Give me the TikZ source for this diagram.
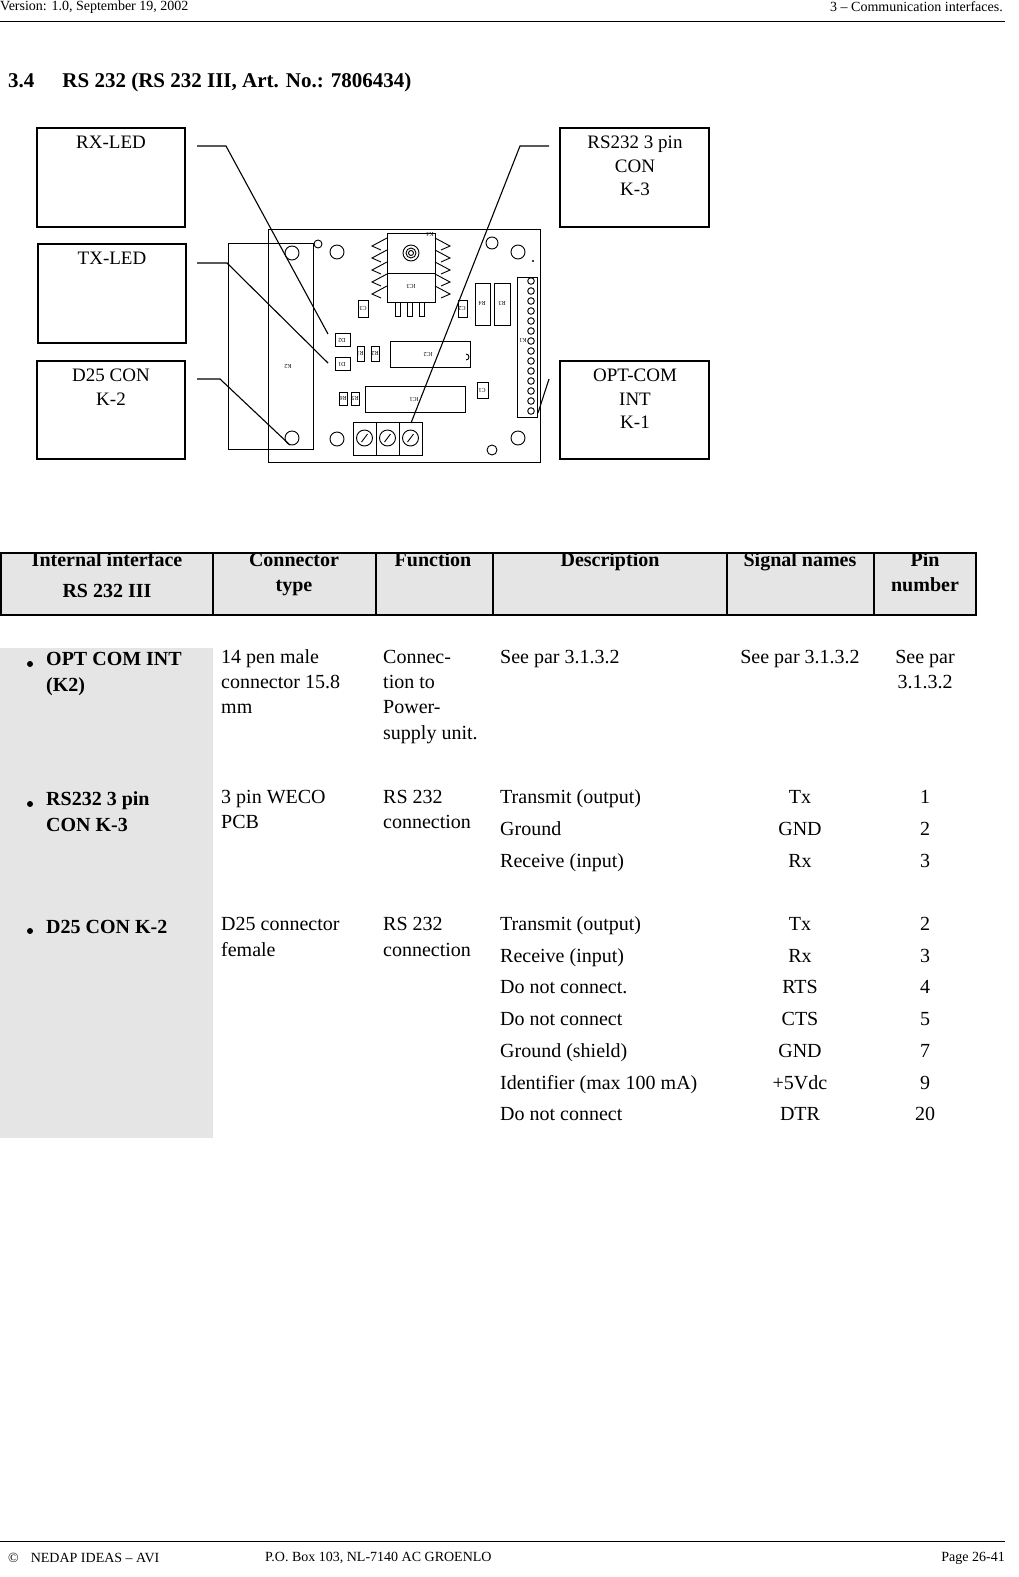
\documentclass[tikz,border=0pt]{standalone}
\usepackage{fontspec}
\setmainfont{Liberation Serif}
\begin{document}
\begin{tikzpicture}[x=1pt,y=-1pt,
  txt/.style={inner sep=0pt,anchor=mid west,font=\fontsize{20}{25}\selectfont},
  ctr/.style={inner sep=0pt,anchor=mid,font=\fontsize{20}{25}\selectfont},
  hd/.style={inner sep=0pt,anchor=mid,font=\fontsize{20}{25}\selectfont\bfseries},
  small/.style={inner sep=0pt,font=\fontsize{14}{16}\selectfont},
  callout/.style={draw,line width=1.2pt,inner sep=0pt},
  ctext/.style={inner sep=0pt,align=center,font=\fontsize{19}{23.5}\selectfont,anchor=north},
  lead/.style={line width=1.1pt},
  pcb/.style={line width=0.9pt},
  pl/.style={inner sep=0pt,font=\fontsize{6}{6}\selectfont,rotate=180}]
\useasboundingbox (0,0) rectangle (1018,1577);
% page header/footer
\node[small,anchor=west] (h1) at (0,7) {Version: 1.0, September 19, 2002};
\node[small,anchor=east] (h2) at (1003,7) {3 – Communication interfaces.};
\draw[line width=0.7pt] (0,21) -- (1005,21);
\draw[line width=0.7pt] (0,1541) -- (1005,1541);
\node[small,anchor=west] (f1) at (8,1558) {©\hspace{12pt}NEDAP IDEAS – AVI};
\node[small,anchor=west] (f2) at (265,1558) {P.O. Box 103, NL-7140 AC GROENLO};
\node[small,anchor=east] (f3) at (1005,1558) {Page 26-41};
% title
\node[inner sep=0pt,anchor=mid west,font=\fontsize{21}{25}\selectfont\bfseries] (title) at (8,85) {3.4\hspace{28pt}RS 232 (RS 232 III, Art. No.: 7806434)};
% callout boxes
\draw[callout] (37,128) rectangle (185,227); \node[ctext] (rx) at (111,136) {RX-LED};
\draw[callout] (38,244) rectangle (186,343); \node[ctext] (tx) at (112,252) {TX-LED};
\draw[callout] (37,361) rectangle (185,459); \node[ctext] (d25) at (111,369) {D25 CON\\K-2};
\draw[callout] (560,128) rectangle (709,227); \node[ctext] (k3) at (635,136) {RS232 3 pin\\CON\\K-3};
\draw[callout] (560,361) rectangle (709,459); \node[ctext] (k1) at (635,369) {OPT-COM\\INT\\K-1};
% PCB
\draw[pcb] (268,229) rectangle (540,462);
\draw[pcb] (228,243) rectangle (313,449);
\node[pl] (k2l) at (288,366) {K2};
\foreach \x/\y/\r [count=\i] in {318/244/4,337/252/7,292/253/7,492/243/6,518/252/7,292/438/7,337/439/7,518/438/7,492/450/5}
  \draw[pcb] (\x,\y) circle (\r);
\fill (533,261) circle (1.2);
% regulator
\draw[pcb] (387,233) rectangle (435,302);
\draw[pcb] (387,273) -- (435,273);
\draw[pcb] (411,253) circle (8); \draw[pcb] (411,253) circle (5); \draw[pcb] (411,253) circle (2.5);
\foreach \x in {395,407,419} \draw[pcb] (\x,302) rectangle (\x+5,316);
\foreach \y in {246,258,270,282,294} {
  \draw[pcb] (387,\y-8) -- (372,\y) -- (381,\y+4);
  \draw[pcb] (435,\y-8) -- (450,\y) -- (441,\y+4);}
\node[pl] (ic3) at (411,286) {IC3};
\node[pl] (k4) at (430,234) {K4};
% small parts
\draw[pcb] (358,300) rectangle (368,317); \node[pl] (c3) at (363,308) {C3};
\draw[pcb] (458,300) rectangle (467,317); \node[pl] (c2) at (462,308) {C2};
\draw[pcb] (475,283) rectangle (490,325); \node[pl] (r4) at (482,303) {R4};
\draw[pcb] (494,283) rectangle (510,325); \node[pl] (r3) at (502,303) {R3};
\draw[pcb] (517,277) rectangle (537,417);
\foreach \k in {0,...,13} \draw[pcb] (531,281+\k*10) circle (3.3);
\node[pl] (k1l) at (523,340) {K1};
\draw[pcb] (335,333) rectangle (350,346); \node[pl] (d2) at (342,340) {D2};
\draw[pcb] (335,357) rectangle (350,370); \node[pl] (d1) at (342,364) {D1};
\draw[pcb] (357,346) rectangle (364,361); \node[pl] (r1) at (360,353) {R1};
\draw[pcb] (371,346) rectangle (379,361); \node[pl] (r2) at (375,353) {R2};
\draw[pcb] (390,341) rectangle (470,367); \node[pl] (ic2) at (428,354) {IC2};
\draw[pcb] (466,354) arc (90:270:-3);
\draw[pcb] (365,386) rectangle (465,412); \node[pl] (ic1) at (414,399) {IC1};
\draw[pcb] (339,392) rectangle (347,405); \node[pl] (r6) at (343,398) {R6};
\draw[pcb] (351,392) rectangle (359,405); \node[pl] (r5) at (355,398) {R5};
\draw[pcb] (477,382) rectangle (488,398); \node[pl] (c1) at (482,390) {C1};
\draw[pcb] (353,422) rectangle (422,455);
\draw[pcb] (376,422) -- (376,455); \draw[pcb] (399,422) -- (399,455);
\foreach \x in {364.5,387.5,410.5} {\draw[pcb] (\x,438) circle (8); \draw[pcb] (\x-3,442) -- (\x+3,434);}
% leader lines
\coordinate (erx) at (328,334); \coordinate (etx) at (328,363);
\coordinate (ed25) at (290,445); \coordinate (ek3) at (411,423); \coordinate (ek1) at (538,413);
\draw[lead] (197,146) -- (226,146) -- (erx);
\draw[lead] (197,263) -- (227,263) -- (etx);
\draw[lead] (197,379) -- (220,379) -- (ed25);
\draw[lead] (549,146) -- (520,146) -- (ek3);
\draw[lead] (549,379) -- (ek1);
% table header
\fill[gray!20] (1,553) rectangle (976,615);
\draw[line width=1.1pt] (1,553) rectangle (976,615);
\foreach \x in {213,376,493,727,874} \draw[line width=1.1pt] (\x,553) -- (\x,615);
\node[hd] (th1) at (107,564) {Internal interface};
\node[hd] (th1b) at (107,595) {RS 232 III};
\node[hd] (th2) at (294,564) {Connector};
\node[hd] (th2b) at (294,589) {type};
\node[hd] (th3) at (433,564) {Function};
\node[hd] (th4) at (610,564) {Description};
\node[hd] (th5) at (800,564) {Signal names};
\node[hd] (th6) at (925,564) {Pin};
\node[hd] (th6b) at (925,589) {number};
% left column
\fill[gray!20] (0,648) rectangle (213,1138);
\foreach \y in {664,804,931} \fill (30,\y) circle (3);
\node[hd,anchor=mid west] (a1) at (46,663) {OPT COM INT};
\node[hd,anchor=mid west] (a2) at (46,689) {(K2)};
\node[hd,anchor=mid west] (b1) at (46,803) {RS232 3 pin};
\node[hd,anchor=mid west] (b2) at (46,829) {CON K-3};
\node[hd,anchor=mid west] (c1t) at (46,931) {D25 CON K-2};
% row 1
\node[txt] (r1a) at (221,661) {14 pen male};
\node[txt] (r1b) at (221,686) {connector 15.8};
\node[txt] (r1c) at (221,711) {mm};
\node[txt] (r1d) at (383,661) {Connec-};
\node[txt] (r1e) at (383,686) {tion to};
\node[txt] (r1f) at (383,711) {Power-};
\node[txt] (r1g) at (383,737) {supply unit.};
\node[txt] (r1h) at (500,661) {See par 3.1.3.2};
\node[ctr] (r1i) at (800,661) {See par 3.1.3.2};
\node[ctr] (r1j) at (925,661) {See par};
\node[ctr] (r1k) at (925,686) {3.1.3.2};
% row 2
\node[txt] (r2a) at (221,801) {3 pin WECO};
\node[txt] (r2b) at (221,826) {PCB};
\node[txt] (r2c) at (383,801) {RS 232};
\node[txt] (r2d) at (383,826) {connection};
\foreach \d/\s/\p [count=\i] in {Transmit (output)/Tx/1,Ground/GND/2,Receive (input)/Rx/3} {
  \node[txt] (r2d\i) at (500,769+\i*32) {\d};
  \node[ctr] (r2s\i) at (800,769+\i*32) {\s};
  \node[ctr] (r2p\i) at (925,769+\i*32) {\p};}
% row 3
\node[txt] (r3a) at (221,928) {D25 connector};
\node[txt] (r3b) at (221,954) {female};
\node[txt] (r3c) at (383,928) {RS 232};
\node[txt] (r3d) at (383,954) {connection};
\foreach \d/\s/\p [count=\i] in {Transmit (output)/Tx/2,Receive (input)/Rx/3,Do not connect./RTS/4,Do not connect/CTS/5,Ground (shield)/GND/7,Identifier (max 100 mA)/+5Vdc/9,Do not connect/DTR/20} {
  \node[txt] (r3d\i) at (500,896.5+\i*31.7) {\d};
  \node[ctr] (r3s\i) at (800,896.5+\i*31.7) {\s};
  \node[ctr] (r3p\i) at (925,896.5+\i*31.7) {\p};}
\end{tikzpicture}
\end{document}
